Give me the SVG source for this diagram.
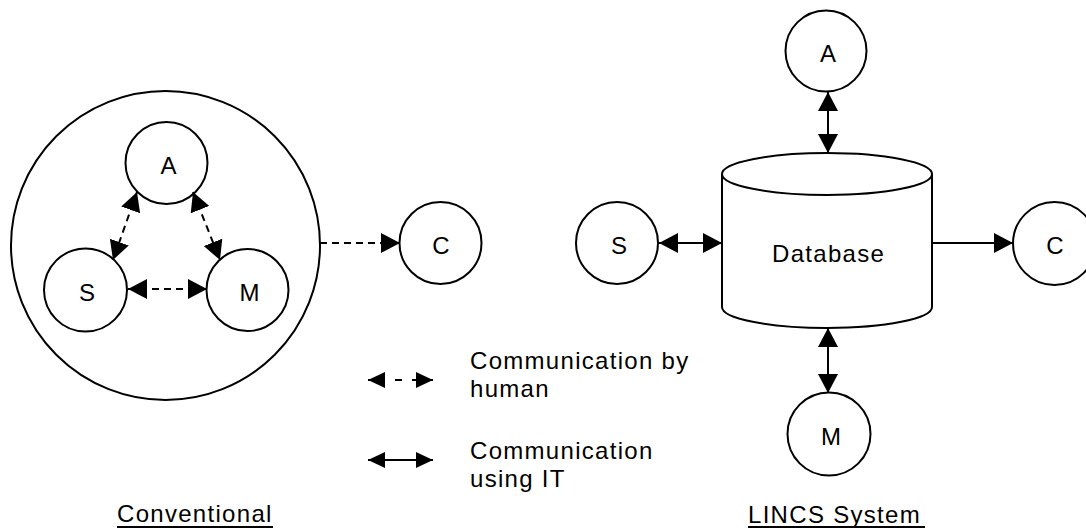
<svg xmlns="http://www.w3.org/2000/svg" width="1086" height="531" viewBox="0 0 1086 531">
  <style>
    .node { fill: #ffffff; stroke: #000000; stroke-width: 2; }
    .lbl { font-family: "Liberation Sans", Arial, sans-serif; font-size: 24px; fill: #000000; }
    .txt { font-family: "Liberation Sans", Arial, sans-serif; font-size: 24px; fill: #000000; letter-spacing: 1.3px; }
    .solid { stroke: #000000; stroke-width: 2; fill: none; }
    .dash { stroke: #000000; stroke-width: 2; fill: none; stroke-dasharray: 7 5; }
    .uline { stroke: #000000; stroke-width: 2; }
  </style>
  <defs>
    <marker id="head" markerUnits="userSpaceOnUse" markerWidth="19" markerHeight="20" refX="19" refY="10" orient="auto-start-reverse">
      <path d="M0,0 L19,10 L0,20 Z" fill="#000000"/>
    </marker>
    <marker id="key-head" markerUnits="userSpaceOnUse" markerWidth="17" markerHeight="16" refX="17" refY="8" orient="auto-start-reverse">
      <path d="M0,0 L17,8 L0,16 Z" fill="#000000"/>
    </marker>
  </defs>

  <rect width="1086" height="531" fill="#ffffff"/>

  <!-- Conventional organisation -->
  <g id="conventional-boundary">
    <circle class="node" cx="165.5" cy="245.5" r="154.5"/>
  </g>
  <g id="conv-A">
    <circle class="node" cx="166.5" cy="163" r="41"/>
    <text class="lbl" x="168.5" y="174" text-anchor="middle">A</text>
  </g>
  <g id="conv-S">
    <circle class="node" cx="85.5" cy="290" r="41.5"/>
    <text class="lbl" x="87" y="301" text-anchor="middle">S</text>
  </g>
  <g id="conv-M">
    <circle class="node" cx="247.5" cy="290" r="41"/>
    <text class="lbl" x="249.5" y="301" text-anchor="middle">M</text>
  </g>
  <g id="conv-C">
    <circle class="node" cx="440.5" cy="243" r="41"/>
    <text class="lbl" x="441" y="254" text-anchor="middle">C</text>
  </g>

  <!-- LINCS system -->
  <g id="lincs-database">
    <path class="node" d="M722,174 L722,307 A105,21 0 0 0 932,307 L932,174"/>
    <ellipse class="node" cx="827" cy="174" rx="105" ry="21"/>
    <text class="txt" x="772" y="262">Database</text>
  </g>
  <g id="lincs-A">
    <circle class="node" cx="826" cy="51" r="40.5"/>
    <text class="lbl" x="828" y="62" text-anchor="middle">A</text>
  </g>
  <g id="lincs-S">
    <circle class="node" cx="617" cy="243" r="41"/>
    <text class="lbl" x="619" y="254" text-anchor="middle">S</text>
  </g>
  <g id="lincs-M">
    <circle class="node" cx="829" cy="434" r="41.5"/>
    <text class="lbl" x="831" y="445" text-anchor="middle">M</text>
  </g>
  <g id="lincs-C">
    <circle class="node" cx="1054.5" cy="243.5" r="41.5"/>
    <text class="lbl" x="1055" y="254" text-anchor="middle">C</text>
  </g>

  <!-- connectors -->
  <g id="connectors">
    <line class="dash" x1="137" y1="192" x2="113" y2="260" marker-start="url(#head)" marker-end="url(#head)"/>
    <line class="dash" x1="193" y1="192" x2="220" y2="260" marker-start="url(#head)" marker-end="url(#head)"/>
    <line class="dash" x1="128" y1="289" x2="207" y2="289" marker-start="url(#head)" marker-end="url(#head)"/>
    <line class="dash" x1="320" y1="243" x2="400" y2="243" marker-end="url(#head)"/>

    <line class="solid" x1="828" y1="92" x2="828" y2="153" marker-start="url(#head)" marker-end="url(#head)"/>
    <line class="solid" x1="659" y1="243" x2="722" y2="243" marker-start="url(#head)" marker-end="url(#head)"/>
    <line class="solid" x1="828" y1="328" x2="828" y2="393" marker-start="url(#head)" marker-end="url(#head)"/>
    <line class="solid" x1="932" y1="243" x2="1013" y2="243" marker-end="url(#head)"/>
  </g>

  <!-- legend -->
  <g id="legend">
    <line class="solid" x1="368" y1="380" x2="433" y2="380" stroke-dasharray="17 10 7 10 30" marker-start="url(#key-head)" marker-end="url(#key-head)"/>
    <text class="txt" x="470" y="369">Communication by</text>
    <text class="txt" x="470" y="397">human</text>
    <line class="solid" x1="368" y1="460" x2="433" y2="460" marker-start="url(#key-head)" marker-end="url(#key-head)"/>
    <text class="txt" x="470" y="459">Communication</text>
    <text class="txt" x="470" y="487">using IT</text>
  </g>

  <!-- captions -->
  <g id="caption-conventional">
    <text class="txt" x="117" y="522">Conventional</text>
    <line class="uline" x1="117" y1="527" x2="273" y2="527"/>
  </g>
  <g id="caption-lincs">
    <text class="txt" x="748" y="523">LINCS System</text>
    <line class="uline" x1="748" y1="527" x2="925" y2="527"/>
  </g>
</svg>
